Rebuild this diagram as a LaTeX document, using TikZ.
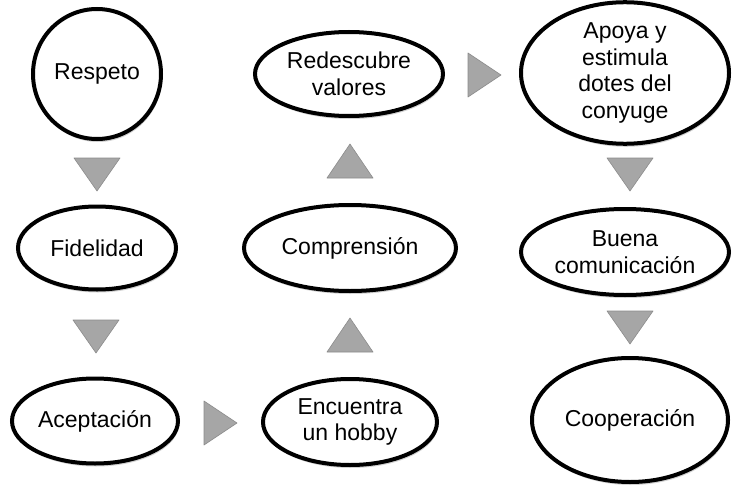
\documentclass[tikz,border=0pt]{standalone}
\usepackage{fontspec}
\setmainfont{Liberation Sans}
\usetikzlibrary{shapes.geometric,shadows}
\definecolor{trifill}{RGB}{166,166,166}
\definecolor{triedge}{RGB}{140,140,140}
\tikzset{
  bubble/.style={ellipse, draw=black, line width=4pt, fill=white, inner sep=0pt,
    align=center, font=\fontsize{23}{26.5}\selectfont,
    drop shadow={shadow xshift=1pt, shadow yshift=-3pt, fill=black, opacity=0.18}},
  tri/.style={fill=trifill, draw=triedge, line width=0.6pt, line join=round},
  downtri/.pic={\path[tri] (-23,-16) -- (23,-16) -- (0,17) -- cycle;},
  uptri/.pic={\path[tri] (-23,17) -- (23,17) -- (0,-17) -- cycle;},
  righttri/.pic={\path[tri] (-16,-22) -- (-16,22) -- (17,0) -- cycle;}
}
\begin{document}
\begin{tikzpicture}[x=1pt,y=-1pt]
\useasboundingbox[fill=white] (0,0) rectangle (733,487);
\node[bubble, minimum width=128pt, minimum height=130pt] (respeto) at (97,74) {Respeto};
\node[bubble, minimum width=158pt, minimum height=83pt] (fidelidad) at (97,248) {Fidelidad};
\node[bubble, minimum width=166pt, minimum height=85pt] (aceptacion) at (95,421) {Aceptación};
\node[bubble, minimum width=174pt, minimum height=86pt] (hobby) at (350,422) {Encuentra\\un hobby};
\node[bubble, minimum width=212pt, minimum height=86pt] (comprension) at (350,248) {Comprensión};
\node[bubble, minimum width=188pt, minimum height=84pt] (redescubre) at (349,74) {Redescubre\\valores};
\node[bubble, minimum width=208pt, minimum height=116pt] (apoya) at (625,73) {Apoya y\\estimula\\dotes del\\conyuge};
\node[bubble, minimum width=208pt, minimum height=86pt] (buena) at (625,252) {Buena\\comunicación};
\node[bubble, minimum width=196pt, minimum height=124pt] (cooperacion) at (630,420) {Cooperación};
\pic at (97,174) {downtri};
\pic at (96,336) {downtri};
\pic at (220,423) {righttri};
\pic at (350,335) {uptri};
\pic at (350,161) {uptri};
\pic at (484,75) {righttri};
\pic at (630,174) {downtri};
\pic at (630,327) {downtri};
\end{tikzpicture}
\end{document}
